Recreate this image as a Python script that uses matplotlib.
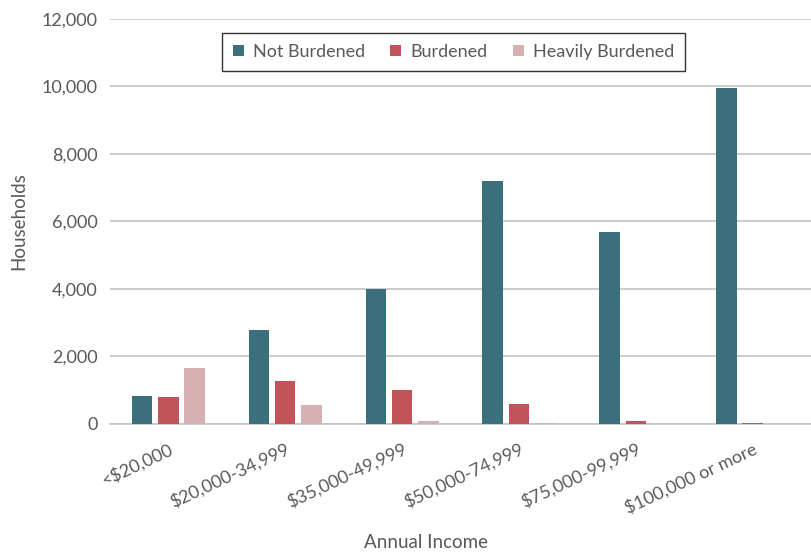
import numpy as np
import matplotlib
matplotlib.use('Agg')
from matplotlib import pyplot as plt
from matplotlib.ticker import FuncFormatter

plt.rcParams['font.family'] = ['Lato', 'DejaVu Sans']

categories = ['<$20,000', '$20,000-34,999', '$35,000-49,999',
              '$50,000-74,999', '$75,000-99,999', '$100,000 or more']
not_burdened = [830, 2790, 4000, 7200, 5690, 9960]
burdened = [800, 1270, 1010, 590, 100, 40]
heavily_burdened = [1660, 560, 90, 30, 0, 0]

series = [('Not Burdened', not_burdened, '#3a6f7b'),
          ('Burdened', burdened, '#c0545a'),
          ('Heavily Burdened', heavily_burdened, '#d9b0b2')]

text_color = '#595959'

fig = plt.figure(figsize=(8.11, 5.54), dpi=100)
ax = fig.add_axes([0.1356, 0.2347, 0.8644, 0.731])

x = np.arange(len(categories))
width = 0.175
step = 0.225
for i, (name, vals, color) in enumerate(series):
    ax.bar(x + (i - 1) * step, vals, width=width, color=color, label=name, zorder=3)

ax.set_ylim(0, 12000)
ax.set_xlim(-0.5, len(categories) - 0.5)
ax.set_yticks(range(0, 12001, 2000))
ax.yaxis.set_major_formatter(FuncFormatter(lambda v, p: '{:,.0f}'.format(v)))
ax.grid(axis='y', color='#c4c4c4', linewidth=1.2, zorder=0)
ax.set_axisbelow(True)
for s in ['top', 'right', 'left']:
    ax.spines[s].set_visible(False)
ax.spines['bottom'].set_color('#c4c4c4')
ax.spines['bottom'].set_linewidth(1.2)
ax.tick_params(axis='y', length=0, labelsize=13, colors=text_color, pad=9)
ax.tick_params(axis='x', length=0, labelsize=13, colors=text_color, pad=12)

ax.set_xticks(x)
ax.set_xticklabels(categories, rotation=25, ha='right', rotation_mode='anchor')

ax.set_ylabel('Households', fontsize=13.5, color=text_color, labelpad=10)
fig.text(0.525, 0.005, 'Annual Income', ha='center', va='bottom',
         fontsize=13.5, color=text_color)

leg = ax.legend(loc='upper center', bbox_to_anchor=(0.49, 0.988), ncol=3,
                frameon=True, fancybox=False, fontsize=13, handlelength=0.6,
                handleheight=0.6, columnspacing=1.4, handletextpad=0.5,
                borderpad=0.6)
leg.get_frame().set_edgecolor('black')
leg.get_frame().set_linewidth(1.0)
for t in leg.get_texts():
    t.set_color(text_color)

fig.savefig('out.png', dpi=100)
